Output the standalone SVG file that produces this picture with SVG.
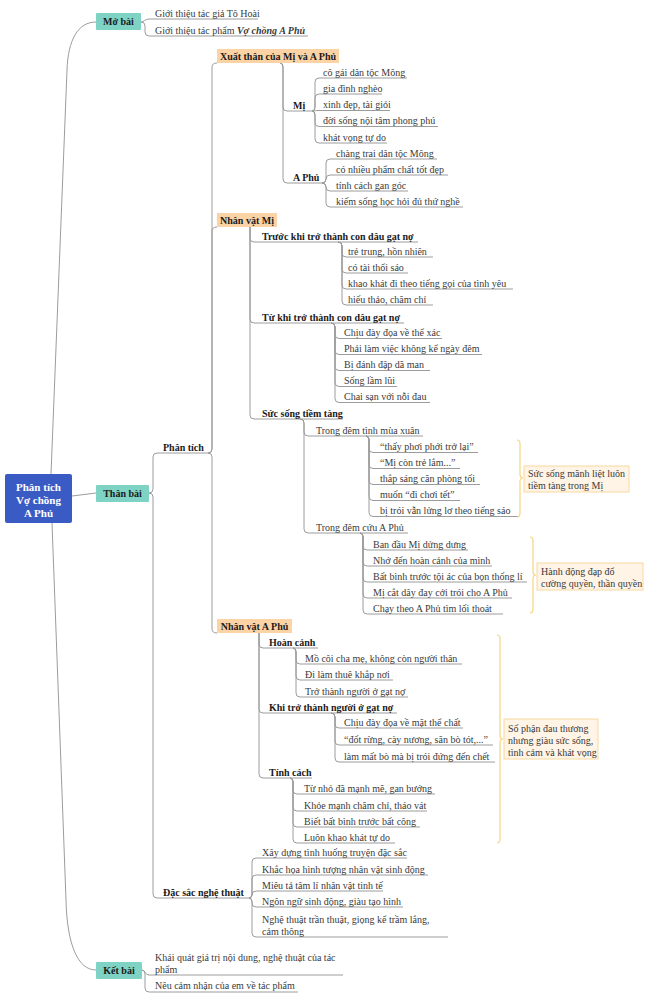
<svg xmlns="http://www.w3.org/2000/svg" width="650" height="998" viewBox="0 0 650 998">
<style>
text{font-family:"Liberation Serif","Times New Roman",serif;font-size:10px;fill:#3a3a3a}
.b{font-weight:bold;fill:#1a1a1a}
.w{font-weight:bold;fill:#ffffff;font-size:11px}
.c{fill:none;stroke:#9c9c9c;stroke-width:1}
.br{fill:none;stroke:#f6d57e;stroke-width:1.2}
.teal{fill:#7ed3c5}
.org{fill:#fbd3a5}
.sum{fill:#fff4e6;stroke:#f8d8a0;stroke-width:1}
</style>
<rect width="650" height="998" fill="#ffffff"/>
<g id="connectors">
<!-- root -->
<path class="c" d="M51,474 L67,70 C68,40 78,22 96,22"/>
<path class="c" d="M52,523 L66,900 C67,945 78,970 96,970"/>
<path class="c" d="M72,496 L96,493"/>
<!-- Mở bài -->
<path class="c" d="M141,22 C144,22 145,19 149,19 H258"/>
<path class="c" d="M141,22 Q145,22 145,26 V32 Q145,36 149,36 H308"/>
<!-- Kết bài -->
<path class="c" d="M142,970 C145,970 145,975 149,975 H343"/>
<path class="c" d="M142,970 Q145,970 145,974 V988 Q145,992 149,992 H298"/>
<!-- Thân bài -->
<path class="c" d="M149,493 Q153,493 153,489 V457 Q153,453 157,453 H208"/>
<path class="c" d="M149,493 Q153,493 153,497 V894 Q153,898 157,898 H249"/>
<!-- Phân tích -->
<path class="c" d="M208,453 Q212,453 212,449 V67 Q212,63 217,63"/>
<path class="c" d="M208,453 Q212,453 212,449 V231 Q212,227 217,227"/>
<path class="c" d="M208,453 Q212,453 212,457 V629 Q212,633 217,633"/>
<!-- Xuất thân -->
<path class="c" d="M280,63 Q283,63 283,67 V107 Q283,111 287,111 H312"/>
<path class="c" d="M280,63 Q283,63 283,67 V179 Q283,183 287,183 H322"/>
<!-- Mị -->
<path class="c" d="M312,111 Q315,111 315,107 V82 Q315,78 319,78 H407"/>
<path class="c" d="M312,111 Q315,111 315,107 V98 Q315,94 319,94 H382"/>
<path class="c" d="M312,111 C315,111 315,110.5 319,110.5 H390"/>
<path class="c" d="M312,111 Q315,111 315,115 V122.5 Q315,126.5 319,126.5 H438"/>
<path class="c" d="M312,111 Q315,111 315,115 V139 Q315,143 319,143 H387"/>
<!-- A Phủ -->
<path class="c" d="M322,183 Q326,183 326,179 V163 Q326,159 330,159 H437"/>
<path class="c" d="M322,183 Q326,183 326,179 Q326,175 330,175 H448"/>
<path class="c" d="M322,183 Q326,183 326,187 Q326,191 330,191 H408"/>
<path class="c" d="M322,183 Q326,183 326,187 V203 Q326,207 330,207 H463"/>
<!-- Nhân vật Mị -->
<path class="c" d="M250,227 V238 Q250,242 254,242 H418"/>
<path class="c" d="M250,227 V319 Q250,323 254,323 H404"/>
<path class="c" d="M250,227 V415 Q250,419 254,419 H343"/>
<!-- Trước khi -->
<path class="c" d="M338,242 Q342,242 342,246 V253 Q342,257 346,257 H433"/>
<path class="c" d="M338,242 Q342,242 342,246 V269 Q342,273 346,273 H408"/>
<path class="c" d="M338,242 Q342,242 342,246 V285 Q342,289 346,289 H513"/>
<path class="c" d="M338,242 Q342,242 342,246 V301 Q342,305 346,305 H433"/>
<!-- Từ khi -->
<path class="c" d="M331,323 Q335,323 335,327 V334.5 Q335,338.5 339,338.5 H442"/>
<path class="c" d="M331,323 Q335,323 335,327 V350.5 Q335,354.5 339,354.5 H482"/>
<path class="c" d="M331,323 Q335,323 335,327 V366.5 Q335,370.5 339,370.5 H430"/>
<path class="c" d="M331,323 Q335,323 335,327 V382.5 Q335,386.5 339,386.5 H397"/>
<path class="c" d="M331,323 Q335,323 335,327 V398.5 Q335,402.5 339,402.5 H430"/>
<!-- Sức sống -->
<path class="c" d="M300,419 Q304,419 304,423 V432 Q304,436 308,436 H423"/>
<path class="c" d="M300,419 Q304,419 304,423 V529 Q304,533 308,533 H408"/>
<!-- Tình mùa xuân -->
<path class="c" d="M366,436 Q369,436 369,440 V448.5 Q369,452.5 373,452.5 H478"/>
<path class="c" d="M366,436 Q369,436 369,440 V464.5 Q369,468.5 373,468.5 H460"/>
<path class="c" d="M366,436 Q369,436 369,440 V480.5 Q369,484.5 373,484.5 H480"/>
<path class="c" d="M366,436 Q369,436 369,440 V496.5 Q369,500.5 373,500.5 H460"/>
<path class="c" d="M366,436 Q369,436 369,440 V512.5 Q369,516.5 373,516.5 H519"/>
<!-- Cứu A Phủ -->
<path class="c" d="M360,533 Q363,533 363,537 V546 Q363,550 367,550 H468"/>
<path class="c" d="M360,533 Q363,533 363,537 V562 Q363,566 367,566 H492"/>
<path class="c" d="M360,533 Q363,533 363,537 V578 Q363,582 367,582 H527"/>
<path class="c" d="M360,533 Q363,533 363,537 V594 Q363,598 367,598 H512"/>
<path class="c" d="M360,533 Q363,533 363,537 V610 Q363,614 367,614 H503"/>
<!-- Nhân vật A Phủ -->
<path class="c" d="M259,633 V644 Q259,648 263,648 H318"/>
<path class="c" d="M259,633 V709 Q259,713 263,713 H397"/>
<path class="c" d="M259,633 V774 Q259,778 263,778 H312"/>
<!-- Hoàn cảnh -->
<path class="c" d="M293,648 Q296,648 296,652 V660 Q296,664 300,664 H462"/>
<path class="c" d="M293,648 Q296,648 296,652 V676 Q296,680 300,680 H393"/>
<path class="c" d="M293,648 Q296,648 296,652 V693 Q296,697 300,697 H408"/>
<!-- Khi trở thành -->
<path class="c" d="M331,713 Q335,713 335,717 V724 Q335,728 339,728 H463"/>
<path class="c" d="M331,713 Q335,713 335,717 V741 Q335,745 339,745 H493"/>
<path class="c" d="M331,713 Q335,713 335,717 V758 Q335,762 339,762 H495"/>
<!-- Tính cách -->
<path class="c" d="M290,778 Q293,778 293,782 V790 Q293,794 297,794 H435"/>
<path class="c" d="M290,778 Q293,778 293,782 V807 Q293,811 297,811 H427"/>
<path class="c" d="M290,778 Q293,778 293,782 V823 Q293,827 297,827 H420"/>
<path class="c" d="M290,778 Q293,778 293,782 V839 Q293,843 297,843 H395"/>
<!-- Đặc sắc -->
<path class="c" d="M249,898 Q252,898 252,894 V862 Q252,858 256,858 H407"/>
<path class="c" d="M249,898 Q252,898 252,894 V879 Q252,875 256,875 H428"/>
<path class="c" d="M249,898 Q252,898 252,895 Q252,891 256,891 H383"/>
<path class="c" d="M249,898 Q252,898 252,902 V903 Q252,907 256,907 H403"/>
<path class="c" d="M249,898 Q252,898 252,902 V933 Q252,937 256,937 H448"/>
</g>
<g id="braces">
<path class="br" d="M517,440 Q520,440 520,444 V474 Q520,478 523,478 Q520,478 520,482 V513 Q520,517 517,517"/>
<path class="br" d="M530,537 Q533,537 533,541 V571 Q533,575 536,575 Q533,575 533,579 V609 Q533,613 530,613"/>
<path class="br" d="M497,635 Q500,635 500,639 V735 Q500,739 503,739 Q500,739 500,743 V839 Q500,843 497,843"/>
</g>
<g id="root">
<rect x="5" y="474" width="67" height="49" rx="2" fill="#3a5bc4"/>
<text class="w" x="38.5" y="491" text-anchor="middle">Phân tích</text>
<text class="w" x="38.5" y="504" text-anchor="middle">Vợ chồng</text>
<text class="w" x="38.5" y="517" text-anchor="middle">A Phủ</text>
</g>
<g id="mo-bai">
<rect class="teal" x="96" y="13" width="45" height="17" rx="1"/>
<text class="b" x="118.5" y="25" text-anchor="middle">Mở bài</text>
<text x="155" y="16.5">Giới thiệu tác giả Tô Hoài</text>
<text x="155" y="33.5">Giới thiệu tác phẩm <tspan font-style="italic" font-weight="bold">Vợ chồng A Phủ</tspan></text>
</g>
<g id="than-bai">
<rect class="teal" x="96" y="485" width="53" height="17" rx="1"/>
<text class="b" x="122.5" y="497" text-anchor="middle">Thân bài</text>
</g>
<g id="phan-tich">
<text class="b" x="163" y="450.5">Phân tích</text>
</g>
<g id="xuat-than">
<rect class="org" x="217" y="49" width="122" height="14"/>
<text class="b" x="278" y="59.5" text-anchor="middle">Xuất thân của Mị và A Phủ</text>
</g>
<g id="mi">
<text class="b" x="293" y="108.5">Mị</text>
<text x="323" y="75.5">cô gái dân tộc Mông</text>
<text x="323" y="91.5">gia đình nghèo</text>
<text x="323" y="108">xinh đẹp, tài giỏi</text>
<text x="323" y="124">đời sống nội tâm phong phú</text>
<text x="323" y="140.5">khát vọng tự do</text>
</g>
<g id="a-phu">
<text class="b" x="293" y="180.5">A Phủ</text>
<text x="336" y="156.5">chàng trai dân tộc Mông</text>
<text x="336" y="172.5">có nhiều phẩm chất tốt đẹp</text>
<text x="336" y="188.5">tính cách gan góc</text>
<text x="336" y="204.5">kiếm sống học hỏi đủ thứ nghề</text>
</g>
<g id="nhan-vat-mi">
<rect class="org" x="217" y="213" width="60" height="14"/>
<text class="b" x="247" y="223.5" text-anchor="middle">Nhân vật Mị</text>
</g>
<g id="truoc-khi">
<text class="b" x="262" y="239.5">Trước khi trở thành con dâu gạt nợ</text>
<text x="348" y="254.5">trẻ trung, hồn nhiên</text>
<text x="348" y="270.5">có tài thổi sáo</text>
<text x="348" y="286.5">khao khát đi theo tiếng gọi của tình yêu</text>
<text x="348" y="302.5">hiếu thảo, chăm chỉ</text>
</g>
<g id="tu-khi">
<text class="b" x="262" y="320.5">Từ khi trở thành con dâu gạt nợ</text>
<text x="344" y="336">Chịu đày đọa về thể xác</text>
<text x="344" y="352">Phải làm việc không kể ngày đêm</text>
<text x="344" y="368">Bị đánh đập dã man</text>
<text x="344" y="384">Sống lầm lũi</text>
<text x="344" y="400">Chai sạn với nỗi đau</text>
</g>
<g id="suc-song">
<text class="b" x="262" y="416.5">Sức sống tiềm tàng</text>
</g>
<g id="mua-xuan">
<text x="316" y="433.5">Trong đêm tình mùa xuân</text>
<text x="380" y="450">“thấy phơi phới trở lại”</text>
<text x="380" y="466">“Mị còn trẻ lắm...”</text>
<text x="380" y="482">thắp sáng căn phòng tối</text>
<text x="380" y="498">muốn “đi chơi tết”</text>
<text x="380" y="514">bị trói vẫn lửng lơ theo tiếng sáo</text>
</g>
<g id="sum-1">
<rect class="sum" x="524" y="466" width="105" height="26"/>
<text x="528" y="476.5">Sức sống mãnh liệt luôn</text>
<text x="528" y="489">tiềm tàng trong Mị</text>
</g>
<g id="cuu-a-phu">
<text x="316" y="530.5">Trong đêm cứu A Phủ</text>
<text x="373" y="547.5">Ban đầu Mị dửng dưng</text>
<text x="373" y="563.5">Nhớ đến hoàn cảnh của mình</text>
<text x="373" y="579.5">Bất bình trước tội ác của bọn thống lí</text>
<text x="373" y="595.5">Mị cắt dây đay cởi trói cho A Phủ</text>
<text x="373" y="611.5">Chạy theo A Phủ tìm lối thoát</text>
</g>
<g id="sum-2">
<rect class="sum" x="537" y="563" width="106" height="27"/>
<text x="541" y="574.5">Hành động đạp đổ</text>
<text x="541" y="586.5">cường quyền, thần quyền</text>
</g>
<g id="nhan-vat-a-phu">
<rect class="org" x="217" y="619" width="75" height="14"/>
<text class="b" x="254.5" y="629.5" text-anchor="middle">Nhân vật A Phủ</text>
</g>
<g id="hoan-canh">
<text class="b" x="269" y="645.5">Hoàn cảnh</text>
<text x="305" y="661.5">Mồ côi cha mẹ, không còn người thân</text>
<text x="305" y="677.5">Đi làm thuê khắp nơi</text>
<text x="305" y="694.5">Trở thành người ở gạt nợ</text>
</g>
<g id="khi-tro-thanh">
<text class="b" x="269" y="710.5">Khi trở thành người ở gạt nợ</text>
<text x="344" y="725.5">Chịu đày đọa về mặt thể chất</text>
<text x="344" y="742.5">“đốt rừng, cày nương, săn bò tót,...”</text>
<text x="344" y="759.5">làm mất bò mà bị trói đứng đến chết</text>
</g>
<g id="tinh-cach">
<text class="b" x="269" y="775.5">Tính cách</text>
<text x="304" y="791.5">Từ nhỏ đã mạnh mẽ, gan bướng</text>
<text x="304" y="808.5">Khỏe mạnh chăm chỉ, tháo vát</text>
<text x="304" y="824.5">Biết bất bình trước bất công</text>
<text x="304" y="840.5">Luôn khao khát tự do</text>
</g>
<g id="sum-3">
<rect class="sum" x="504" y="719" width="94" height="40"/>
<text x="508" y="731.5">Số phận đau thương</text>
<text x="508" y="743.5">nhưng giàu sức sống,</text>
<text x="508" y="755.5">tình cảm và khát vọng</text>
</g>
<g id="dac-sac">
<text class="b" x="163" y="895.5">Đặc sắc nghệ thuật</text>
<text x="262" y="855.5">Xây dựng tình huống truyện đặc sắc</text>
<text x="262" y="872.5">Khắc họa hình tượng nhân vật sinh động</text>
<text x="262" y="888.5">Miêu tả tâm lí nhân vật tinh tế</text>
<text x="262" y="904.5">Ngôn ngữ sinh động, giàu tạo hình</text>
<text x="262" y="922.5">Nghệ thuật trần thuật, giọng kể trầm lắng,</text>
<text x="262" y="934.5">cảm thông</text>
</g>
<g id="ket-bai">
<rect class="teal" x="96" y="962" width="46" height="17" rx="1"/>
<text class="b" x="119" y="974" text-anchor="middle">Kết bài</text>
<text x="155" y="960.5">Khái quát giá trị nội dung, nghệ thuật của tác</text>
<text x="155" y="972.5">phẩm</text>
<text x="155" y="988.5">Nêu cảm nhận của em về tác phẩm</text>
</g>
</svg>
